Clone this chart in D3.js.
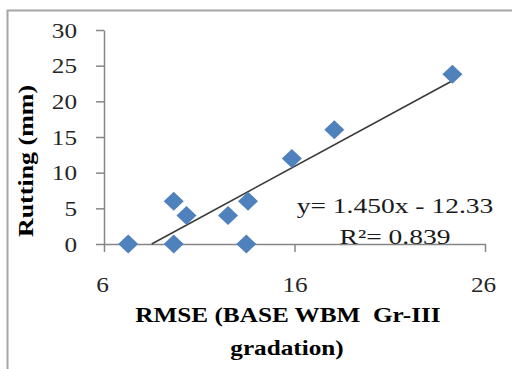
<!DOCTYPE html>
<html>
<head>
<meta charset="utf-8">
<script src="https://cdn.jsdelivr.net/npm/d3@7"></script>
<style>
  html, body { margin: 0; padding: 0; background: #fff; }
  svg { display: block; }
  text { font-family: "Liberation Serif", "Times New Roman", serif; white-space: pre; }
</style>
</head>
<body>
<script>
// RMSE of the WBM Gr-III base layer against measured rutting
const rmse    = [7.27, 9.66, 9.66, 10.33, 12.51, 13.56, 13.47, 15.86, 18.09, 24.29];
const rutting = [0, 6, 0, 4, 4, 6, 0, 12, 16, 23.8];
const xTicks  = [6, 16, 26];
const yTicks  = [0, 5, 10, 15, 20, 25, 30];
const slope = 1.450, intercept = -12.33, r2 = 0.839;

const W = 512, H = 369;
const svg = d3.select("body").append("svg").attr("width", W).attr("height", H);

// widen glyph advances a little, like the GDI-rendered serif text
const STRETCH = 1.2;
function widen(sel, k = STRETCH) {
  sel.each(function () {
    const len = this.getComputedTextLength();
    d3.select(this).attr("textLength", len * k).attr("lengthAdjust", "spacingAndGlyphs");
  });
}

// chart frame
svg.append("rect")
  .attr("x", 7.5).attr("y", 10.5).attr("width", 540).attr("height", 400)
  .attr("fill", "#fff").attr("stroke", "#a6a6a6").attr("stroke-width", 2);

const x = d3.scaleLinear().domain([6, 26]).range([104, 485]);
const y = d3.scaleLinear().domain([0, 30]).range([244, 30]);

const axisColor = "#868686";

// y axis
const gy = svg.append("g").attr("transform", `translate(${x(6)},0)`)
  .call(d3.axisLeft(y).tickValues(yTicks).tickSize(8).tickSizeOuter(0).tickPadding(19));
gy.select(".domain").attr("stroke", axisColor).attr("stroke-width", 1.5);
gy.selectAll(".tick line").attr("stroke", axisColor).attr("stroke-width", 1.5);
gy.selectAll(".tick text")
  .attr("font-size", 21).attr("fill", "#262626")
  .attr("font-family", "Liberation Serif").attr("dy", "0.34em")
  .call(widen);

// x axis
const gx = svg.append("g").attr("transform", `translate(0,${y(0)})`)
  .call(d3.axisBottom(x).tickValues(xTicks).tickSize(8).tickSizeOuter(0).tickPadding(33));
gx.select(".domain").attr("stroke", axisColor).attr("stroke-width", 1.5);
gx.selectAll(".tick line").attr("stroke", axisColor).attr("stroke-width", 1.5);
gx.selectAll(".tick text")
  .attr("font-size", 21).attr("fill", "#262626")
  .attr("font-family", "Liberation Serif").attr("dy", "0.7em")
  .attr("y", 33)
  .call(widen);
gx.selectAll(".tick").filter(d => d === 6).select("text").attr("x", -2);
gx.selectAll(".tick").filter(d => d === 26).select("text").attr("x", -2);

// linear trendline, clipped at the x axis
const xMin = d3.min(rmse), xMax = d3.max(rmse);
const xStart = Math.max(xMin, -intercept / slope);
svg.append("line")
  .attr("x1", x(xStart)).attr("y1", y(slope * xStart + intercept))
  .attr("x2", x(xMax)).attr("y2", y(slope * xMax + intercept))
  .attr("stroke", "#3a3a3a").attr("stroke-width", 1.6);

// diamond markers
const diamond = (rx, ry) => `M0,${-ry}L${rx},0L0,${ry}L${-rx},0Z`;
svg.append("g").selectAll("path")
  .data(rmse.map((v, i) => [v, rutting[i]]))
  .join("path")
  .attr("d", diamond(10, 9.5))
  .attr("transform", d => `translate(${x(d[0])},${y(d[1])})`)
  .attr("fill", "#4f81bd");

// trendline equation
const eq = svg.append("g").attr("font-size", 22).attr("fill", "#1a1a1a").attr("text-anchor", "middle");
eq.append("text").attr("x", 395).attr("y", 213).text(`y= ${slope.toFixed(3)}x - ${Math.abs(intercept).toFixed(2)}`).call(widen, 1.25);
eq.append("text").attr("x", 395).attr("y", 244).text(`R²= ${r2.toFixed(3)}`).call(widen, 1.25);

// axis titles
svg.append("text")
  .attr("transform", "translate(33,161) rotate(-90)")
  .attr("text-anchor", "middle").attr("font-size", 22).attr("font-weight", "bold")
  .attr("fill", "#000").text("Rutting (mm)").call(widen, 1.18);

const xt = svg.append("g").attr("text-anchor", "middle").attr("font-size", 21)
  .attr("font-weight", "bold").attr("fill", "#000");
xt.append("text").attr("x", 288).attr("y", 322).text("RMSE (BASE WBM  Gr-III").call(widen);
xt.append("text").attr("x", 287).attr("y", 355).text("gradation)").call(widen);
</script>
</body>
</html>
